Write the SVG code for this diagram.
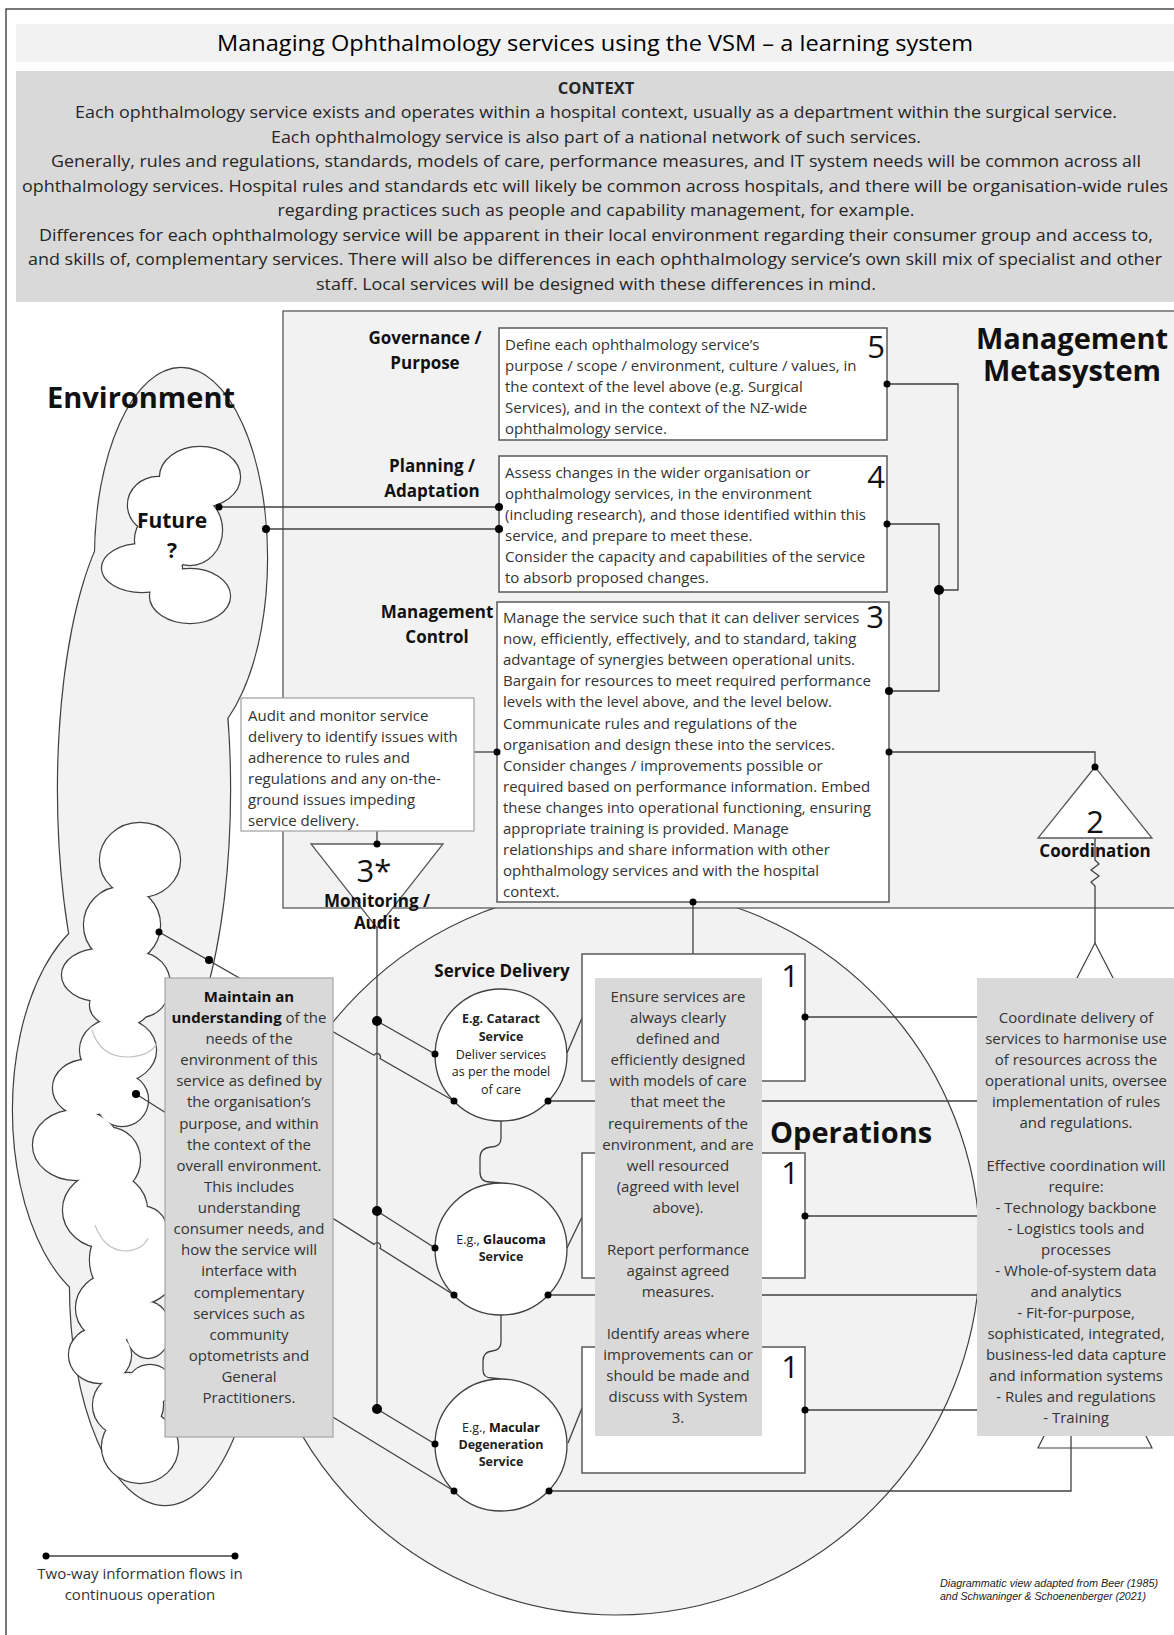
<svg xmlns="http://www.w3.org/2000/svg" xmlns:xlink="http://www.w3.org/1999/xlink" width="1174" height="1635" viewBox="0 0 1174 1635">
<style>
.t{font-family:'Open Sans','Liberation Sans',sans-serif;font-size:15px;fill:#333}
.c{text-anchor:middle}
.b{font-weight:bold;fill:#111}
.ctx{font-family:'Open Sans','Liberation Sans',sans-serif;font-size:16.5px;fill:#262626;text-anchor:middle}
.lbl{font-family:'Open Sans','Liberation Sans',sans-serif;font-size:17px;font-weight:bold;fill:#111;text-anchor:middle}
.big{font-family:'Open Sans','Liberation Sans',sans-serif;font-size:29px;font-weight:bold;fill:#111}
.num{font-family:'Open Sans','Liberation Sans',sans-serif;font-size:31px;fill:#111}
.sm{font-family:'Open Sans','Liberation Sans',sans-serif;font-size:12.5px;fill:#222;text-anchor:middle}
.ln{stroke:#404040;stroke-width:1.3;fill:none}
.box{fill:#fff;stroke:#595959;stroke-width:1.5}
.grey{fill:#d9d9d9}
.dot{fill:#000}
</style>
<defs>
<g id="envShape">
<ellipse cx="181" cy="558" rx="86" ry="190"/>
<ellipse cx="144" cy="790" rx="86" ry="290"/>
<ellipse cx="120" cy="1110" rx="107" ry="200"/>
<ellipse cx="165" cy="1285" rx="95" ry="220"/>
</g>
<g id="futureCloud">
<ellipse cx="200" cy="477" rx="40" ry="30"/>
<ellipse cx="158" cy="505" rx="30" ry="28"/>
<ellipse cx="142" cy="568" rx="40" ry="24"/>
<ellipse cx="190" cy="596" rx="40" ry="27"/>
<ellipse cx="190" cy="530" rx="32" ry="35"/>
<ellipse cx="165" cy="540" rx="30" ry="30"/>
</g>
<g id="cloudStack">
<ellipse cx="140" cy="860" rx="40" ry="37"/>
<ellipse cx="122" cy="925" rx="38" ry="38"/>
<ellipse cx="100" cy="975" rx="38" ry="26"/>
<ellipse cx="140" cy="985" rx="30" ry="32"/>
<ellipse cx="120" cy="1005" rx="30" ry="22"/>
<ellipse cx="118" cy="1050" rx="38" ry="32"/>
<ellipse cx="86" cy="1088" rx="33" ry="28"/>
<ellipse cx="122" cy="1100" rx="26" ry="26"/>
<ellipse cx="76" cy="1145" rx="43" ry="35"/>
<ellipse cx="110" cy="1160" rx="30" ry="32"/>
<ellipse cx="105" cy="1210" rx="42" ry="38"/>
<ellipse cx="140" cy="1228" rx="26" ry="22"/>
<ellipse cx="135" cy="1260" rx="45" ry="45"/>
<ellipse cx="112" cy="1308" rx="36" ry="34"/>
<ellipse cx="100" cy="1355" rx="31" ry="28"/>
<ellipse cx="148" cy="1330" rx="22" ry="28"/>
<ellipse cx="150" cy="1385" rx="22" ry="20"/>
<ellipse cx="128" cy="1405" rx="35" ry="32"/>
<ellipse cx="140" cy="1447" rx="38" ry="36"/>
</g>
</defs>

<!-- background -->
<rect x="6" y="9" width="1200" height="1700" fill="#fff" stroke="#222" stroke-width="1.2"/>
<rect x="16" y="24" width="1170" height="38" fill="#f2f2f2"/>
<text x="595" y="51" font-family="'Open Sans','Liberation Sans',sans-serif" font-size="22" fill="#000" text-anchor="middle" textLength="756" lengthAdjust="spacingAndGlyphs">Managing Ophthalmology services using the VSM – a learning system</text>
<rect x="16" y="71" width="1170" height="231" fill="#d9d9d9"/>
<text class="ctx" x="596" y="94" font-weight="bold" fill="#111">CONTEXT</text>
<text class="ctx" x="596" y="118" textLength="1042" lengthAdjust="spacingAndGlyphs">Each ophthalmology service exists and operates within a hospital context, usually as a department within the surgical service.</text>
<text class="ctx" x="596" y="142.5" textLength="650" lengthAdjust="spacingAndGlyphs">Each ophthalmology service is also part of a national network of such services.</text>
<text class="ctx" x="596" y="167" textLength="1090" lengthAdjust="spacingAndGlyphs">Generally, rules and regulations, standards, models of care, performance measures, and IT system needs will be common across all</text>
<text class="ctx" x="595" y="191.5" textLength="1146" lengthAdjust="spacingAndGlyphs">ophthalmology services. Hospital rules and standards etc will likely be common across hospitals, and there will be organisation-wide rules</text>
<text class="ctx" x="596" y="216" textLength="637" lengthAdjust="spacingAndGlyphs">regarding practices such as people and capability management, for example.</text>
<text class="ctx" x="596" y="240.5" textLength="1114" lengthAdjust="spacingAndGlyphs">Differences for each ophthalmology service will be apparent in their local environment regarding their consumer group and access to,</text>
<text class="ctx" x="595" y="265" textLength="1134" lengthAdjust="spacingAndGlyphs">and skills of, complementary services. There will also be differences in each ophthalmology service’s own skill mix of specialist and other</text>
<text class="ctx" x="596" y="289.5" textLength="560" lengthAdjust="spacingAndGlyphs">staff. Local services will be designed with these differences in mind.</text>

<!-- environment -->
<g id="environment">
<use xlink:href="#envShape" fill="none" stroke="#404040" stroke-width="2.4"/>
<use xlink:href="#envShape" fill="#f2f2f2" stroke="none"/>
<use xlink:href="#futureCloud" fill="none" stroke="#404040" stroke-width="2.4"/>
<use xlink:href="#futureCloud" fill="#fff" stroke="none"/>
<use xlink:href="#cloudStack" fill="none" stroke="#404040" stroke-width="2.4"/>
<use xlink:href="#cloudStack" fill="#fff" stroke="none"/>
<path d="M92,1030 Q100,1057 128,1057 Q152,1056 157,1042" fill="none" stroke="#c4c4c4" stroke-width="1.2"/>
<path d="M95,1225 Q104,1250 125,1251 Q143,1250 148,1238" fill="none" stroke="#c4c4c4" stroke-width="1.2"/>
<text class="big" x="47" y="408">Environment</text>
<text x="172" y="528" font-family="'Open Sans','Liberation Sans',sans-serif" font-size="21" font-weight="bold" fill="#111" text-anchor="middle">Future</text>
<text x="172" y="558" font-family="'Open Sans','Liberation Sans',sans-serif" font-size="21" font-weight="bold" fill="#111" text-anchor="middle">?</text>
</g>

<!-- operations circle -->
<g id="operations">
<circle cx="616" cy="1251" r="364" fill="#f2f2f2" stroke="#404040" stroke-width="1.2"/>
</g>

<!-- management metasystem -->
<g id="metasystem">
<rect x="283" y="311" width="920" height="597" fill="#f2f2f2" stroke="#595959" stroke-width="1.3"/>
<text class="big" x="1072" y="349" text-anchor="middle" font-size="28">Management</text>
<text class="big" x="1072" y="381" text-anchor="middle" font-size="28">Metasystem</text>
</g>

<!-- hidden coordination shape -->
<polygon points="1095,943 1113,978 1146,1436 1152,1448 1038,1448 1044,1436 1077,978" fill="none" stroke="#404040" stroke-width="1.2"/>

<!-- connectors -->
<g id="connectors" class="ln">
<path d="M887,384 H958 V590 H939"/>
<path d="M887,524 H939 V691 H889"/>
<path d="M889,752 H1095 V767"/>
<path d="M474,752 H497"/>
<path d="M219,507 H499"/>
<path d="M266,529 H499"/>
<path d="M693,902 V954"/>
<path d="M1095,838 V860 L1099,864 L1091,870 L1099,876 L1091,882 L1095,886 V943"/>
<path d="M377,831 V1409"/>
<path d="M377,1021 L435,1054"/>
<path d="M377,1211 L435,1248"/>
<path d="M377,1409 L435,1444"/>
<path d="M159,932 L374,1055.2 A3,3 0 0 1 380,1058.6 L454,1101"/>
<path d="M136,1094 L374,1244.4 A3,3 0 0 1 380,1248.2 L454,1295"/>
<path d="M300,1397 L454,1491"/>
<path d="M567,1053 L582,1018"/>
<path d="M567,1248 L582,1217"/>
<path d="M568,1443 L582,1408"/>
<path d="M805,1017 H977"/>
<path d="M548,1101 H977"/>
<path d="M805,1216 H977"/>
<path d="M548,1295 H977"/>
<path d="M805,1410 H977"/>
<path d="M549,1491 H1071 V1436"/>
<path d="M501,1121 V1138 Q501,1147 491,1147 Q480,1148 480,1158 V1172 Q480,1182 490,1182 L501,1183"/>
<path d="M501,1315 V1342 Q501,1350 492,1351 Q483,1352 483,1361 V1370 Q483,1378 492,1378 L501,1379"/>
<path d="M46,1556 H235"/>
</g>

<!-- system 5 -->
<g id="s5">
<rect class="box" x="499" y="328" width="388" height="112"/>
<text class="num" x="885" y="358" text-anchor="end">5</text>
<text class="t" x="505" y="350">Define each ophthalmology service’s</text>
<text class="t" x="505" y="371">purpose / scope / environment, culture / values,  in</text>
<text class="t" x="505" y="392">the context of the level above (e.g. Surgical</text>
<text class="t" x="505" y="413">Services), and in the context of the NZ-wide</text>
<text class="t" x="505" y="434">ophthalmology service.</text>
<text class="lbl" x="425" y="344">Governance /</text>
<text class="lbl" x="425" y="369">Purpose</text>
</g>

<!-- system 4 -->
<g id="s4">
<rect class="box" x="499" y="456" width="388" height="136"/>
<text class="num" x="885" y="488" text-anchor="end">4</text>
<text class="t" x="505" y="478">Assess changes in the wider organisation or</text>
<text class="t" x="505" y="499">ophthalmology services,  in the environment</text>
<text class="t" x="505" y="520">(including research), and those identified within this</text>
<text class="t" x="505" y="541">service, and prepare to meet these.</text>
<text class="t" x="505" y="562">Consider the capacity and capabilities of the service</text>
<text class="t" x="505" y="583">to absorb proposed changes.</text>
<text class="lbl" x="432" y="472">Planning /</text>
<text class="lbl" x="432" y="497">Adaptation</text>
</g>

<!-- system 3 -->
<g id="s3">
<rect class="box" x="497" y="602" width="392" height="300"/>
<text class="num" x="884" y="628" text-anchor="end">3</text>
<text class="t" x="503" y="623">Manage the service such that it can deliver services</text>
<text class="t" x="503" y="644">now, efficiently, effectively, and to standard, taking</text>
<text class="t" x="503" y="665">advantage of synergies between operational units.</text>
<text class="t" x="503" y="686">Bargain for resources to meet required performance</text>
<text class="t" x="503" y="707">levels with the level above, and the level below.</text>
<text class="t" x="503" y="729">Communicate rules and regulations of the</text>
<text class="t" x="503" y="750">organisation and design these into the services.</text>
<text class="t" x="503" y="771">Consider changes /  improvements possible or</text>
<text class="t" x="503" y="792">required based on performance information. Embed</text>
<text class="t" x="503" y="813">these changes into operational functioning, ensuring</text>
<text class="t" x="503" y="834">appropriate training is provided. Manage</text>
<text class="t" x="503" y="855">relationships and share information with other</text>
<text class="t" x="503" y="876">ophthalmology services and with the hospital</text>
<text class="t" x="503" y="897">context.</text>
<text class="lbl" x="437" y="618">Management</text>
<text class="lbl" x="437" y="643">Control</text>
</g>

<!-- audit box -->
<g id="audit">
<rect x="241" y="698" width="233" height="133" fill="#fff" stroke="#a6a6a6" stroke-width="1.3"/>
<text class="t" x="248" y="721">Audit and monitor service</text>
<text class="t" x="248" y="742">delivery to identify issues with</text>
<text class="t" x="248" y="763">adherence to rules and</text>
<text class="t" x="248" y="784">regulations and any on-the-</text>
<text class="t" x="248" y="805">ground issues impeding</text>
<text class="t" x="248" y="826">service delivery.</text>
</g>

<!-- system 3* -->
<g id="s3star">
<polygon points="311,844 443,844 377,928" fill="#fff" stroke="#595959" stroke-width="1.3"/>
<text class="num" x="374" y="882" text-anchor="middle" font-size="30">3*</text>
<text class="lbl" x="377" y="907">Monitoring /</text>
<text class="lbl" x="377" y="929">Audit</text>
</g>

<!-- system 2 -->
<g id="s2">
<polygon points="1095,767 1038,838 1152,838" fill="#fff" stroke="#595959" stroke-width="1.3"/>
<text class="num" x="1095" y="833" text-anchor="middle" font-size="30">2</text>
<text class="lbl" x="1095" y="857" font-size="16">Coordination</text>
</g>

<!-- system 1 boxes -->
<g id="s1a"><rect class="box" x="582" y="954" width="223" height="127"/><text class="num" x="790" y="987" text-anchor="middle">1</text></g>
<g id="s1b"><rect class="box" x="582" y="1153" width="223" height="125"/><text class="num" x="790" y="1184" text-anchor="middle">1</text></g>
<g id="s1c"><rect class="box" x="582" y="1347" width="223" height="126"/><text class="num" x="790" y="1378" text-anchor="middle">1</text></g>

<text class="lbl" x="502" y="977">Service Delivery</text>
<text class="big" x="770" y="1143">Operations</text>

<!-- service circles -->
<g id="cataract">
<circle cx="501" cy="1055" r="66" fill="#fff" stroke="#404040" stroke-width="1.3"/>
<text class="sm b" x="501" y="1023">E.g. Cataract</text>
<text class="sm b" x="501" y="1041">Service</text>
<text class="sm" x="501" y="1059">Deliver services</text>
<text class="sm" x="501" y="1076">as per the model</text>
<text class="sm" x="501" y="1094">of care</text>
</g>
<g id="glaucoma">
<circle cx="501" cy="1249" r="66" fill="#fff" stroke="#404040" stroke-width="1.3"/>
<text class="sm" x="501" y="1244">E.g., <tspan font-weight="bold" fill="#111">Glaucoma</tspan></text>
<text class="sm b" x="501" y="1261">Service</text>
</g>
<g id="macular">
<circle cx="501" cy="1445" r="66" fill="#fff" stroke="#404040" stroke-width="1.3"/>
<text class="sm" x="501" y="1432">E.g., <tspan font-weight="bold" fill="#111">Macular</tspan></text>
<text class="sm b" x="501" y="1449">Degeneration</text>
<text class="sm b" x="501" y="1466">Service</text>
</g>

<!-- environment understanding box -->
<g id="maintain">
<rect class="grey" x="165" y="978" width="168" height="459" stroke="#a6a6a6" stroke-width="1.2"/>
<text class="t c" x="249" y="1002"><tspan font-weight="bold" fill="#111">Maintain an</tspan></text>
<text class="t c" x="249" y="1023"><tspan font-weight="bold" fill="#111">understanding</tspan> of the</text>
<text class="t c" x="249" y="1044">needs of the</text>
<text class="t c" x="249" y="1065">environment of this</text>
<text class="t c" x="249" y="1086">service as defined by</text>
<text class="t c" x="249" y="1107">the organisation’s</text>
<text class="t c" x="249" y="1129">purpose, and within</text>
<text class="t c" x="249" y="1150">the context of the</text>
<text class="t c" x="249" y="1171">overall environment.</text>
<text class="t c" x="249" y="1192">This includes</text>
<text class="t c" x="249" y="1213">understanding</text>
<text class="t c" x="249" y="1234">consumer needs, and</text>
<text class="t c" x="249" y="1255">how the service will</text>
<text class="t c" x="249" y="1276">interface with</text>
<text class="t c" x="249" y="1298">complementary</text>
<text class="t c" x="249" y="1319">services such as</text>
<text class="t c" x="249" y="1340">community</text>
<text class="t c" x="249" y="1361">optometrists and</text>
<text class="t c" x="249" y="1382">General</text>
<text class="t c" x="249" y="1403">Practitioners.</text>
</g>

<!-- system 1 description -->
<g id="ensure">
<rect class="grey" x="595" y="978" width="167" height="458"/>
<text class="t c" x="678" y="1002">Ensure services are</text>
<text class="t c" x="678" y="1023">always clearly</text>
<text class="t c" x="678" y="1044">defined and</text>
<text class="t c" x="678" y="1065">efficiently designed</text>
<text class="t c" x="678" y="1086">with models of care</text>
<text class="t c" x="678" y="1107">that meet the</text>
<text class="t c" x="678" y="1129">requirements of the</text>
<text class="t c" x="678" y="1150">environment, and are</text>
<text class="t c" x="678" y="1171">well resourced</text>
<text class="t c" x="678" y="1192">(agreed with level</text>
<text class="t c" x="678" y="1213">above).</text>
<text class="t c" x="678" y="1255">Report performance</text>
<text class="t c" x="678" y="1276">against agreed</text>
<text class="t c" x="678" y="1297">measures.</text>
<text class="t c" x="678" y="1339">Identify areas where</text>
<text class="t c" x="678" y="1360">improvements can or</text>
<text class="t c" x="678" y="1381">should be made and</text>
<text class="t c" x="678" y="1402">discuss with System</text>
<text class="t c" x="678" y="1423">3.</text>
</g>

<!-- coordination description -->
<g id="coordination">
<rect class="grey" x="977" y="978" width="210" height="458"/>
<text class="t c" x="1076" y="1023">Coordinate delivery of</text>
<text class="t c" x="1076" y="1044">services to harmonise use</text>
<text class="t c" x="1076" y="1065">of resources across the</text>
<text class="t c" x="1076" y="1086">operational units, oversee</text>
<text class="t c" x="1076" y="1107">implementation of rules</text>
<text class="t c" x="1076" y="1128">and regulations.</text>
<text class="t c" x="1076" y="1171">Effective coordination will</text>
<text class="t c" x="1076" y="1192">require:</text>
<text class="t c" x="1076" y="1213">- Technology backbone</text>
<text class="t c" x="1076" y="1234">- Logistics tools and</text>
<text class="t c" x="1076" y="1255">processes</text>
<text class="t c" x="1076" y="1276">- Whole-of-system data</text>
<text class="t c" x="1076" y="1297">and analytics</text>
<text class="t c" x="1076" y="1318">- Fit-for-purpose,</text>
<text class="t c" x="1076" y="1339">sophisticated, integrated,</text>
<text class="t c" x="1076" y="1360">business-led data capture</text>
<text class="t c" x="1076" y="1381">and information systems</text>
<text class="t c" x="1076" y="1402">- Rules and regulations</text>
<text class="t c" x="1076" y="1423">- Training</text>
</g>

<!-- legend and source -->
<g id="legend">
<text class="t c" x="140" y="1579">Two-way information flows in</text>
<text class="t c" x="140" y="1600">continuous operation</text>
</g>
<g id="source">
<text x="940" y="1587" font-family="'Liberation Sans',sans-serif" font-size="10.5" font-style="italic" fill="#222" textLength="218" lengthAdjust="spacingAndGlyphs">Diagrammatic view adapted from Beer (1985)</text>
<text x="940" y="1600" font-family="'Liberation Sans',sans-serif" font-size="10.5" font-style="italic" fill="#222" textLength="206" lengthAdjust="spacingAndGlyphs">and Schwaninger &amp; Schoenenberger (2021)</text>
</g>

<!-- junction dots -->
<g id="dots" class="dot">
<circle cx="887" cy="384" r="3.5"/>
<circle cx="887" cy="524" r="3.5"/>
<circle cx="939" cy="590" r="5"/>
<circle cx="889" cy="691" r="4"/>
<circle cx="889" cy="752" r="3.5"/>
<circle cx="1095" cy="767" r="3.5"/>
<circle cx="497" cy="752" r="3.5"/>
<circle cx="219" cy="507" r="3.5"/>
<circle cx="499" cy="507" r="4"/>
<circle cx="266" cy="529" r="4"/>
<circle cx="499" cy="529" r="4"/>
<circle cx="693" cy="902" r="3.5"/>
<circle cx="377" cy="844" r="3.5"/>
<circle cx="377" cy="1021" r="5"/>
<circle cx="377" cy="1211" r="5"/>
<circle cx="377" cy="1409" r="5"/>
<circle cx="435" cy="1054" r="3.5"/>
<circle cx="454" cy="1101" r="3.5"/>
<circle cx="548" cy="1101" r="3.5"/>
<circle cx="435" cy="1248" r="3.5"/>
<circle cx="454" cy="1295" r="3.5"/>
<circle cx="548" cy="1295" r="3.5"/>
<circle cx="435" cy="1444" r="3.5"/>
<circle cx="454" cy="1491" r="3.5"/>
<circle cx="549" cy="1491" r="3.5"/>
<circle cx="805" cy="1017" r="3.5"/>
<circle cx="805" cy="1216" r="3.5"/>
<circle cx="805" cy="1410" r="3.5"/>
<circle cx="159" cy="932" r="3.5"/>
<circle cx="209" cy="960" r="4"/>
<circle cx="136" cy="1094" r="4"/>
<circle cx="46" cy="1556" r="3.5"/>
<circle cx="235" cy="1556" r="3.5"/>
</g>
</svg>
